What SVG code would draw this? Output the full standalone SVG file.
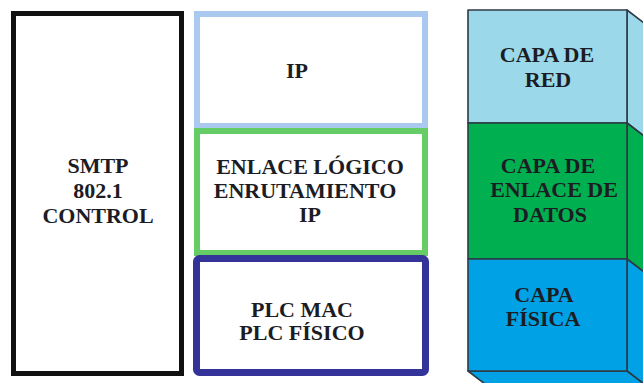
<svg xmlns="http://www.w3.org/2000/svg" width="643" height="383" viewBox="0 0 643 383">
<style>
text{font-family:'Liberation Serif','Times New Roman',serif;font-weight:bold;font-size:22px;fill:#1c1c24;text-anchor:middle}
.face{stroke:#2f3a45;stroke-width:1.6;stroke-linejoin:round}
</style>
<rect width="643" height="383" fill="#ffffff"/>
<g id="node-control">
<rect x="13.5" y="13.5" width="168" height="360" fill="#fff" stroke="#111" stroke-width="5"/>
<text x="98" y="173">SMTP</text>
<text x="98" y="198">802.1</text>
<text x="98" y="223">CONTROL</text>
</g>
<g id="node-ip">
<rect x="197" y="14" width="228" height="112" fill="#fff" stroke="#a9caee" stroke-width="6"/>
<text x="297" y="78">IP</text>
</g>
<g id="node-enlace">
<rect x="197" y="131" width="228" height="122" fill="#fff" stroke="#66cc66" stroke-width="6"/>
<text x="310" y="174">ENLACE LÓGICO</text>
<text x="305" y="198">ENRUTAMIENTO</text>
<text x="310" y="222">IP</text>
</g>
<g id="node-plc">
<rect x="196.5" y="258.5" width="229" height="114" rx="3" fill="#fff" stroke="#333399" stroke-width="7"/>
<text x="302" y="317">PLC MAC</text>
<text x="302" y="340">PLC FÍSICO</text>
</g>
<g id="node-red">
<polygon class="face" points="627,10 657,33 657,146 627,123" fill="#9bd8ea"/>
<rect class="face" x="468" y="10" width="159" height="113" fill="#9bd8ea"/>
<text x="547" y="62">CAPA DE</text>
<text x="548" y="87">RED</text>
</g>
<g id="node-datos">
<polygon class="face" points="627,123 657,146 657,282 627,259" fill="#00b050"/>
<rect class="face" x="468" y="123" width="159" height="136" fill="#00b050"/>
<text x="548" y="173">CAPA DE</text>
<text x="554" y="197">ENLACE DE</text>
<text x="550" y="222">DATOS</text>
</g>
<g id="node-fisica">
<polygon class="face" points="627,259 657,282 657,394 627,371" fill="#00a2e5"/>
<polygon class="face" points="468,371 627,371 657,394 498,394" fill="#00a2e5"/>
<rect class="face" x="468" y="259" width="159" height="112" fill="#00a2e5"/>
<text x="544" y="302">CAPA</text>
<text x="543" y="326">FÍSICA</text>
</g>
<g id="connectors"></g>
</svg>
